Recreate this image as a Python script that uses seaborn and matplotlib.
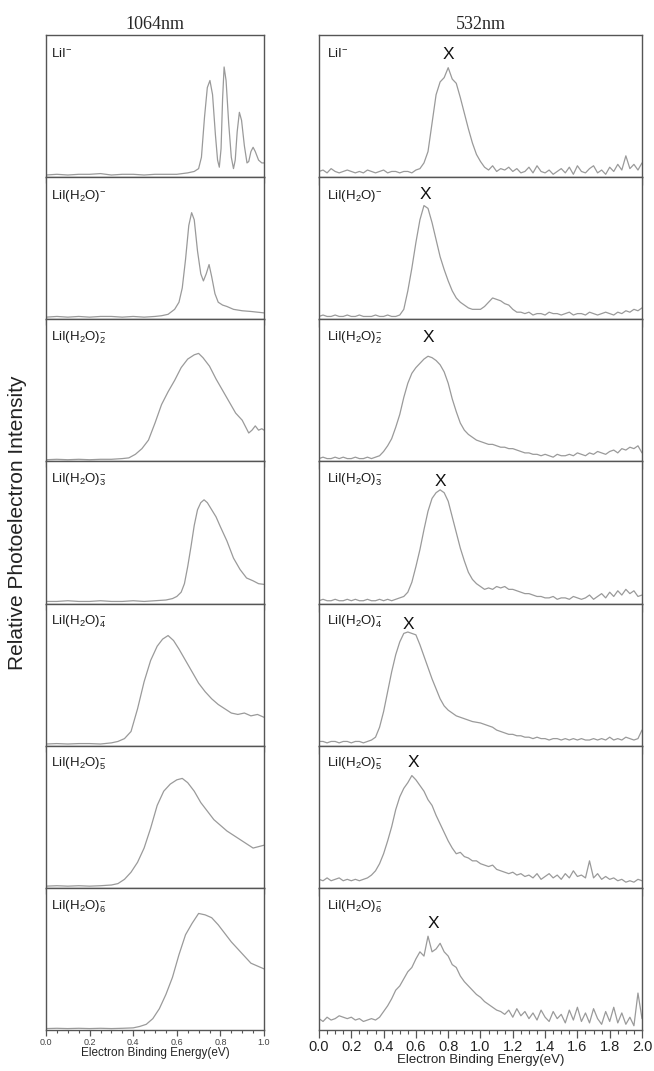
import matplotlib
matplotlib.use("Agg")
import matplotlib.pyplot as plt
import pandas as pd
import seaborn as sns
from matplotlib.ticker import MultipleLocator

# ---------------------------------------------------------------------------
# Data (intensity as fraction of panel height)
# ---------------------------------------------------------------------------
LABELS = [
    r"LiI$^{-}$",
    r"LiI(H$_2$O)$^{-}$",
    r"LiI(H$_2$O)$_2^{-}$",
    r"LiI(H$_2$O)$_3^{-}$",
    r"LiI(H$_2$O)$_4^{-}$",
    r"LiI(H$_2$O)$_5^{-}$",
    r"LiI(H$_2$O)$_6^{-}$",
]

# 1064 nm column
L1_X = [0.0, 0.05, 0.1, 0.15, 0.2, 0.25, 0.3, 0.35, 0.4, 0.45,
        0.5, 0.55, 0.6, 0.65, 0.68, 0.70, 0.713, 0.727, 0.74, 0.752,
        0.764, 0.777, 0.787, 0.795, 0.803, 0.81, 0.817, 0.826, 0.838, 0.85,
        0.86, 0.868, 0.877, 0.887, 0.897, 0.91, 0.922, 0.93, 0.94, 0.95,
        0.96, 0.975, 0.99, 1.0]
L1_Y = [0.015, 0.02, 0.015, 0.02, 0.02, 0.025, 0.015, 0.02, 0.02, 0.015,
        0.02, 0.02, 0.02, 0.03, 0.04, 0.06, 0.14, 0.42, 0.63, 0.68,
        0.58, 0.30, 0.12, 0.07, 0.20, 0.55, 0.775, 0.68, 0.38, 0.14,
        0.06, 0.12, 0.32, 0.456, 0.40, 0.22, 0.10, 0.11, 0.18, 0.21,
        0.18, 0.12, 0.10, 0.10]

L2_X = [0.0, 0.05, 0.1, 0.15, 0.2, 0.25, 0.3, 0.35, 0.4, 0.45,
        0.5, 0.53, 0.56, 0.59, 0.61, 0.625, 0.64, 0.655, 0.668, 0.68,
        0.695, 0.71, 0.722, 0.735, 0.748, 0.76, 0.775, 0.79, 0.81, 0.83,
        0.86, 0.9, 0.94, 0.97, 1.0]
L2_Y = [0.015, 0.02, 0.015, 0.02, 0.015, 0.02, 0.02, 0.015, 0.02, 0.015,
        0.02, 0.025, 0.035, 0.07, 0.12, 0.22, 0.42, 0.66, 0.75, 0.70,
        0.48, 0.32, 0.27, 0.32, 0.385, 0.30, 0.18, 0.12, 0.10, 0.09,
        0.07, 0.06, 0.055, 0.05, 0.045]

L3_X = [0.0, 0.05, 0.1, 0.15, 0.2, 0.25, 0.3, 0.35, 0.38, 0.41,
        0.44, 0.47, 0.50, 0.53, 0.56, 0.59, 0.62, 0.65, 0.68, 0.70,
        0.72, 0.75, 0.78, 0.81, 0.84, 0.87, 0.90, 0.93, 0.945, 0.96,
        0.975, 0.99, 1.0]
L3_Y = [0.012, 0.015, 0.012, 0.015, 0.012, 0.015, 0.015, 0.02, 0.025, 0.05,
        0.09, 0.15, 0.27, 0.40, 0.49, 0.57, 0.66, 0.72, 0.75, 0.76,
        0.73, 0.67, 0.58, 0.50, 0.42, 0.34, 0.29, 0.20, 0.22, 0.25,
        0.22, 0.23, 0.22]

L4_X = [0.0, 0.05, 0.1, 0.15, 0.2, 0.25, 0.3, 0.35, 0.4, 0.45,
        0.5, 0.55, 0.58, 0.60, 0.62, 0.635, 0.65, 0.665, 0.68, 0.695,
        0.71, 0.725, 0.74, 0.76, 0.78, 0.80, 0.83, 0.86, 0.89, 0.92,
        0.95, 0.975, 1.0]
L4_Y = [0.015, 0.015, 0.02, 0.015, 0.015, 0.02, 0.015, 0.015, 0.02, 0.015,
        0.02, 0.025, 0.035, 0.05, 0.08, 0.14, 0.26, 0.40, 0.55, 0.66,
        0.71, 0.73, 0.71, 0.66, 0.61, 0.54, 0.44, 0.32, 0.24, 0.18,
        0.16, 0.14, 0.135]

L5_X = [0.0, 0.05, 0.1, 0.15, 0.2, 0.25, 0.3, 0.33, 0.36, 0.39,
        0.42, 0.45, 0.48, 0.51, 0.535, 0.56, 0.585, 0.61, 0.64, 0.67,
        0.70, 0.73, 0.76, 0.79, 0.82, 0.85, 0.88, 0.91, 0.94, 0.97,
        1.0]
L5_Y = [0.012, 0.015, 0.012, 0.015, 0.015, 0.012, 0.02, 0.03, 0.05, 0.10,
        0.26, 0.45, 0.60, 0.70, 0.75, 0.775, 0.74, 0.68, 0.60, 0.52,
        0.44, 0.38, 0.33, 0.29, 0.26, 0.23, 0.22, 0.23, 0.21, 0.22,
        0.20]

L6_X = [0.0, 0.05, 0.1, 0.15, 0.2, 0.25, 0.3, 0.33, 0.36, 0.39,
        0.42, 0.45, 0.48, 0.51, 0.54, 0.57, 0.60, 0.625, 0.65, 0.68,
        0.71, 0.74, 0.77, 0.80, 0.83, 0.86, 0.89, 0.92, 0.95, 0.975,
        1.0]
L6_Y = [0.012, 0.015, 0.012, 0.015, 0.012, 0.015, 0.02, 0.03, 0.06, 0.11,
        0.18, 0.28, 0.42, 0.58, 0.68, 0.73, 0.76, 0.77, 0.74, 0.68,
        0.60, 0.54, 0.48, 0.44, 0.40, 0.37, 0.34, 0.31, 0.28, 0.29,
        0.30]

L7_X = [0.0, 0.05, 0.1, 0.15, 0.2, 0.25, 0.3, 0.35, 0.4, 0.43,
        0.46, 0.49, 0.52, 0.55, 0.58, 0.61, 0.64, 0.67, 0.70, 0.73,
        0.76, 0.79, 0.82, 0.85, 0.88, 0.91, 0.94, 0.97, 1.0]
L7_Y = [0.01, 0.012, 0.01, 0.012, 0.01, 0.012, 0.01, 0.012, 0.015, 0.025,
        0.04, 0.08, 0.15, 0.25, 0.37, 0.53, 0.67, 0.75, 0.82, 0.81,
        0.79, 0.74, 0.68, 0.62, 0.57, 0.52, 0.47, 0.45, 0.43]

# 532 nm column: common energy grid, 0.025 eV step from 0 to 2.0 eV
R_X = [round(i * 0.025, 3) for i in range(81)]

R1_Y = [0.04, 0.05, 0.03, 0.06, 0.04, 0.03, 0.04, 0.05, 0.04, 0.03,
        0.04, 0.03, 0.05, 0.04, 0.03, 0.04, 0.05, 0.03, 0.04, 0.04,
        0.03, 0.04, 0.04, 0.03, 0.05, 0.06, 0.10, 0.18, 0.38, 0.58,
        0.67, 0.70, 0.77, 0.69, 0.66, 0.56, 0.45, 0.34, 0.24, 0.16,
        0.11, 0.07, 0.05, 0.08, 0.04, 0.06, 0.05, 0.07, 0.04, 0.06,
        0.03, 0.04, 0.07, 0.03, 0.08, 0.04, 0.03, 0.05, 0.02, 0.04,
        0.06, 0.03, 0.07, 0.02, 0.08, 0.04, 0.03, 0.06, 0.08, 0.03,
        0.05, 0.02, 0.07, 0.04, 0.09, 0.05, 0.15, 0.06, 0.09, 0.05,
        0.10]
R2_Y = [0.02, 0.03, 0.02, 0.02, 0.03, 0.02, 0.02, 0.03, 0.02, 0.02,
        0.03, 0.02, 0.02, 0.02, 0.03, 0.02, 0.02, 0.03, 0.02, 0.02,
        0.03, 0.07, 0.20, 0.36, 0.54, 0.70, 0.80, 0.78, 0.68, 0.56,
        0.44, 0.35, 0.27, 0.20, 0.15, 0.12, 0.10, 0.08, 0.07, 0.07,
        0.07, 0.09, 0.12, 0.15, 0.14, 0.13, 0.11, 0.10, 0.07, 0.05,
        0.05, 0.04, 0.05, 0.03, 0.04, 0.04, 0.03, 0.05, 0.04, 0.04,
        0.03, 0.04, 0.05, 0.03, 0.04, 0.04, 0.03, 0.05, 0.04, 0.03,
        0.04, 0.05, 0.04, 0.03, 0.05, 0.04, 0.06, 0.05, 0.07, 0.06,
        0.08]
R3_Y = [0.02, 0.03, 0.02, 0.02, 0.03, 0.02, 0.03, 0.02, 0.02, 0.03,
        0.02, 0.02, 0.03, 0.02, 0.03, 0.04, 0.07, 0.11, 0.16, 0.24,
        0.33, 0.45, 0.55, 0.62, 0.66, 0.69, 0.72, 0.74, 0.73, 0.71,
        0.68, 0.63, 0.55, 0.44, 0.35, 0.27, 0.22, 0.19, 0.17, 0.15,
        0.14, 0.13, 0.12, 0.12, 0.11, 0.10, 0.10, 0.09, 0.09, 0.08,
        0.07, 0.06, 0.06, 0.05, 0.05, 0.04, 0.05, 0.04, 0.03, 0.05,
        0.04, 0.04, 0.05, 0.04, 0.06, 0.05, 0.04, 0.06, 0.05, 0.07,
        0.06, 0.05, 0.07, 0.08, 0.06, 0.09, 0.08, 0.10, 0.09, 0.11,
        0.06]
R4_Y = [0.02, 0.03, 0.02, 0.02, 0.03, 0.02, 0.02, 0.03, 0.02, 0.03,
        0.02, 0.02, 0.03, 0.02, 0.02, 0.03, 0.02, 0.03, 0.02, 0.03,
        0.04, 0.05, 0.08, 0.15, 0.26, 0.38, 0.52, 0.65, 0.74, 0.78,
        0.80, 0.78, 0.72, 0.61, 0.50, 0.39, 0.30, 0.22, 0.17, 0.14,
        0.12, 0.10, 0.11, 0.10, 0.12, 0.11, 0.12, 0.10, 0.10, 0.09,
        0.08, 0.07, 0.07, 0.06, 0.05, 0.05, 0.04, 0.04, 0.05, 0.03,
        0.04, 0.04, 0.03, 0.05, 0.04, 0.03, 0.04, 0.06, 0.03, 0.05,
        0.07, 0.04, 0.08, 0.05, 0.09, 0.06, 0.10, 0.07, 0.09, 0.05,
        0.06]
R5_Y = [0.03, 0.03, 0.02, 0.03, 0.03, 0.02, 0.03, 0.03, 0.02, 0.03,
        0.03, 0.02, 0.03, 0.04, 0.06, 0.13, 0.24, 0.38, 0.52, 0.64,
        0.73, 0.79, 0.80, 0.79, 0.78, 0.71, 0.63, 0.55, 0.47, 0.40,
        0.33, 0.28, 0.25, 0.23, 0.21, 0.20, 0.19, 0.18, 0.17, 0.165,
        0.16, 0.15, 0.14, 0.13, 0.11, 0.10, 0.09, 0.08, 0.08, 0.07,
        0.07, 0.06, 0.06, 0.05, 0.06, 0.05, 0.05, 0.04, 0.05, 0.05,
        0.04, 0.05, 0.04, 0.05, 0.04, 0.05, 0.04, 0.04, 0.05, 0.04,
        0.05, 0.04, 0.06, 0.04, 0.05, 0.04, 0.06, 0.05, 0.04, 0.05,
        0.11]
R6_Y = [0.06, 0.05, 0.07, 0.05, 0.06, 0.07, 0.05, 0.06, 0.05, 0.06,
        0.05, 0.06, 0.07, 0.09, 0.12, 0.17, 0.24, 0.33, 0.43, 0.55,
        0.64, 0.70, 0.74, 0.79, 0.76, 0.72, 0.68, 0.62, 0.58, 0.51,
        0.45, 0.39, 0.33, 0.28, 0.24, 0.25, 0.22, 0.21, 0.19, 0.19,
        0.17, 0.16, 0.15, 0.16, 0.13, 0.12, 0.11, 0.10, 0.11, 0.09,
        0.10, 0.08, 0.09, 0.07, 0.10, 0.06, 0.08, 0.10, 0.07, 0.09,
        0.06, 0.10, 0.07, 0.12, 0.08, 0.09, 0.07, 0.19, 0.07, 0.10,
        0.06, 0.08, 0.06, 0.07, 0.05, 0.06, 0.04, 0.05, 0.04, 0.06,
        0.05]
R7_Y = [0.08, 0.06, 0.09, 0.07, 0.08, 0.10, 0.09, 0.08, 0.09, 0.07,
        0.08, 0.06, 0.07, 0.08, 0.07, 0.09, 0.13, 0.17, 0.22, 0.28,
        0.31, 0.36, 0.41, 0.44, 0.50, 0.55, 0.52, 0.66, 0.55, 0.57,
        0.61, 0.55, 0.52, 0.46, 0.44, 0.38, 0.34, 0.31, 0.28, 0.25,
        0.23, 0.20, 0.18, 0.16, 0.14, 0.13, 0.11, 0.14, 0.09, 0.15,
        0.10, 0.13, 0.08, 0.12, 0.07, 0.14, 0.09, 0.06, 0.13, 0.08,
        0.11, 0.05, 0.14, 0.07, 0.16, 0.06, 0.12, 0.05, 0.15, 0.08,
        0.04, 0.13, 0.06, 0.16, 0.05, 0.12, 0.04, 0.09, 0.03, 0.26,
        0.08]

# "X" markers in the 532 nm column (energy, height)
X_EBE = [0.80, 0.656, 0.68, 0.749, 0.553, 0.584, 0.708]
X_HEIGHT = [0.86, 0.877, 0.87, 0.86, 0.85, 0.88, 0.75]

LEFT = [(L1_X, L1_Y), (L2_X, L2_Y), (L3_X, L3_Y), (L4_X, L4_Y),
        (L5_X, L5_Y), (L6_X, L6_Y), (L7_X, L7_Y)]
RIGHT = [R1_Y, R2_Y, R3_Y, R4_Y, R5_Y, R6_Y, R7_Y]

rows = []
for i, (xs, ys) in enumerate(LEFT):
    rows += [{"col": "1064nm", "panel": i, "ebe": x, "inten": y}
             for x, y in zip(xs, ys)]
for i, ys in enumerate(RIGHT):
    rows += [{"col": "532nm", "panel": i, "ebe": x, "inten": y}
             for x, y in zip(R_X, ys)]
df = pd.DataFrame(rows)

# ---------------------------------------------------------------------------
sns.set_style("ticks")
plt.rcParams["font.family"] = ["Liberation Sans", "DejaVu Sans"]
plt.rcParams["mathtext.fontset"] = "custom"
plt.rcParams["mathtext.rm"] = "Liberation Sans"
plt.rcParams["mathtext.default"] = "regular"

LINE = "#9a9a9a"
SPINE = "#555555"

fig, axes = plt.subplots(
    7, 2, figsize=(6.54, 10.71), dpi=100,
    gridspec_kw=dict(width_ratios=[218, 323], hspace=0, wspace=0.2033,
                     left=46 / 654, right=642 / 654,
                     top=1 - 35 / 1071, bottom=1 - 1030 / 1071),
)

for c, (col, xmax) in enumerate([("1064nm", 1.0), ("532nm", 2.0)]):
    for i in range(7):
        ax = axes[i, c]
        sub = df[(df["col"] == col) & (df["panel"] == i)]
        sns.lineplot(data=sub, x="ebe", y="inten", ax=ax, color=LINE,
                     linewidth=0.9, estimator=None, sort=False)
        ax.set_xlim(0, xmax)
        ax.set_ylim(0, 1)
        ax.set_yticks([])
        ax.set_ylabel("")
        ax.xaxis.set_major_locator(MultipleLocator(0.2))
        ax.xaxis.set_minor_locator(MultipleLocator(0.05))
        big = c == 1
        ax.tick_params(axis="x", which="major", direction="out",
                       length=5.5 if big else 4, width=0.9, color=SPINE,
                       labelsize=10.5 if big else 6.5, pad=2,
                       labelcolor="#222222" if big else "#444444")
        ax.tick_params(axis="x", which="minor", direction="out",
                       length=3 if big else 2, width=0.8, color=SPINE)
        for sp in ax.spines.values():
            sp.set_visible(True)
            sp.set_color(SPINE)
            sp.set_linewidth(1.0)
        ax.text(0.025, 0.87, LABELS[i], transform=ax.transAxes,
                fontsize=9.5, color="#1a1a1a", ha="left", va="center")
        if big:
            ax.text(X_EBE[i], X_HEIGHT[i], "X", fontsize=12.5,
                    ha="center", va="center", color="#111111")
        if i < 6:
            ax.tick_params(axis="x", labelbottom=False)
            ax.set_xlabel("")
        else:
            ax.set_xlabel("Electron Binding Energy(eV)",
                          fontsize=9.5 if big else 8.5, labelpad=0)
    axes[0, c].set_title(col, family="Liberation Serif", fontsize=13, pad=4)

fig.text(18 / 654, 0.512, "Relative Photoelectron Intensity", rotation=90,
         ha="center", va="center", fontsize=15, color="#222222")

fig.savefig("out.png", dpi=100)
